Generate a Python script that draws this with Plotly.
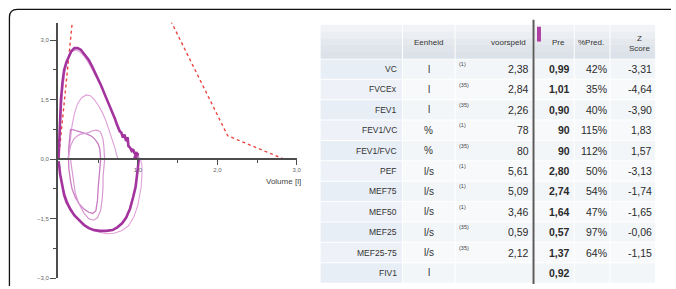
import plotly.graph_objects as go

W, H = 676, 289

# ---------------- data ----------------
# main (thick) loop
main_vol = [0, 0.01, 0.02, 0.03, 0.05, 0.07, 0.1, 0.13, 0.16, 0.2, 0.24, 0.28, 0.33, 0.38, 0.42, 0.46,
            0.5, 0.54, 0.58, 0.62, 0.65, 0.68, 0.71, 0.73, 0.75, 0.77, 0.79, 0.81, 0.83, 0.85, 0.87, 0.88,
            0.9, 0.92, 0.94, 0.95, 0.97, 0.98, 0.99, 1.0, 0.97, 0.96, 0.98, 1.01,
            1.0, 0.99, 0.97, 0.94, 0.9, 0.85, 0.8, 0.74, 0.68, 0.6, 0.52, 0.45, 0.38, 0.32, 0.26, 0.2,
            0.15, 0.1, 0.07, 0.04, 0.02, 0.01, 0]
main_flow = [0, 0.6, 1.1, 1.5, 1.95, 2.25, 2.45, 2.6, 2.72, 2.8, 2.8, 2.76, 2.64, 2.5, 2.35, 2.19,
             2.02, 1.84, 1.64, 1.46, 1.31, 1.16, 1.02, 0.9, 0.77, 0.7, 0.67, 0.54, 0.62, 0.46, 0.55, 0.33,
             0.29, 0.21, 0.25, 0.17, 0.12, 0.18, 0.07, 0.15, 0.1, 0.05, 0.02, 0,
             -0.2, -0.4, -0.7, -0.95, -1.25, -1.48, -1.62, -1.72, -1.79, -1.81, -1.81, -1.79, -1.74, -1.66,
             -1.55, -1.42, -1.27, -1.08, -0.9, -0.62, -0.38, -0.2, -0.05]

# thin trial close to the main one, with the wide outer inspiration
outer_vol = [0.03, 0.05, 0.08, 0.12, 0.17, 0.22, 0.27, 0.32, 0.38, 0.44, 0.5, 0.56, 0.62, 0.68, 0.73,
             0.78, 0.83, 0.88, 0.93, 0.98, 1.03,
             1.05, 1.05, 1.04, 1.0, 0.95, 0.88, 0.8, 0.7, 0.6, 0.5, 0.42, 0.35, 0.27, 0.2, 0.13, 0.08,
             0.05, 0.03]
outer_flow = [1.0, 1.7, 2.2, 2.55, 2.72, 2.75, 2.7, 2.6, 2.42, 2.2, 1.97, 1.72, 1.46, 1.2, 0.95,
              0.72, 0.52, 0.36, 0.22, 0.1, 0,
              -0.15, -0.4, -0.7, -1.15, -1.45, -1.68, -1.8, -1.87, -1.88, -1.84, -1.76, -1.68, -1.55,
              -1.4, -1.15, -0.9, -0.7, -0.55]

# medium effort (peak about 1.6)
mid_vol = [0.12, 0.13, 0.15, 0.17, 0.2, 0.24, 0.29, 0.35, 0.4, 0.45, 0.5, 0.55, 0.6, 0.64, 0.68,
           0.71, 0.73, 0.75]
mid_flow = [0, 0.2, 0.55, 0.85, 1.15, 1.4, 1.55, 1.62, 1.6, 1.5, 1.36, 1.18, 0.95, 0.72, 0.48,
            0.28, 0.12, 0]

# small loops
smallA_vol = [0.125, 0.13, 0.15, 0.19, 0.23, 0.3, 0.36, 0.42, 0.46, 0.5, 0.52, 0.53,
              0.52, 0.51, 0.5, 0.49, 0.47, 0.43, 0.38, 0.32, 0.26, 0.21, 0.17, 0.15, 0.13, 0.125]
smallA_flow = [0, 0.33, 0.75, 0.74, 0.71, 0.67, 0.63, 0.57, 0.5, 0.38, 0.25, 0,
               -0.2, -0.375, -0.7, -1.04, -1.3, -1.37, -1.34, -1.26, -1.13, -0.96, -0.75, -0.54,
               -0.25, 0]
smallB_vol = [0.12, 0.13, 0.15, 0.19, 0.23, 0.27, 0.33, 0.38, 0.42, 0.48, 0.52, 0.54, 0.56, 0.57, 0.58,
              0.57, 0.56, 0.56, 0.55, 0.53, 0.49, 0.44, 0.38, 0.32, 0.25, 0.21, 0.19, 0.17, 0.15]
smallB_flow = [0, 0.15, 0.33, 0.5, 0.58, 0.625, 0.64, 0.67, 0.71, 0.73, 0.7, 0.63, 0.5, 0.33, 0,
               -0.2, -0.45, -0.7, -1.0, -1.29, -1.48, -1.54, -1.5, -1.36, -1.1, -0.85, -0.58,
               -0.3, 0]

# table values
labels = ["VC", "FVCEx", "FEV1", "FEV1/VC", "FEV1/FVC", "PEF", "MEF75", "MEF50", "MEF25",
          "MEF25-75", "FIV1"]
units = ["l", "l", "l", "%", "%", "l/s", "l/s", "l/s", "l/s", "l/s", "l"]
refs = ["(1)", "(35)", "(35)", "(1)", "(35)", "(1)", "(1)", "(1)", "(35)", "(35)", ""]
pred = [2.38, 2.84, 2.26, 78, 80, 5.61, 5.09, 3.46, 0.59, 2.12, None]
pre = [0.99, 1.01, 0.90, 90, 90, 2.80, 2.74, 1.64, 0.57, 1.37, 0.92]
pct = [42, 35, 40, 115, 112, 50, 54, 47, 97, 64, None]
zsc = [-3.31, -4.64, -3.90, 1.83, 1.57, -3.13, -1.74, -1.65, -0.06, -1.15, None]
headers = ["", "Eenheid", "voorspeld", "Pre", "%Pred.", "Z<br>Score"]

# predicted expiratory curve from the predicted values
pef_vol = 0.28  # volume at predicted PEF
fvc_pred = pred[1]
pred_vol = [0, pef_vol, 0.25 * fvc_pred, 0.5 * fvc_pred, 0.75 * fvc_pred, fvc_pred]
pred_flow = [0, pred[5], pred[6], pred[7], pred[8], 0]


def fmt(v, unit):
    if v is None:
        return ""
    if unit == "%":
        return f"{v:.0f}"
    return f"{v:.2f}".replace(".", ",")


FONT = "Liberation Sans, Arial, sans-serif"
fig = go.Figure()

fig.add_trace(go.Scatter(x=pred_vol, y=pred_flow, mode="lines",
                         line=dict(color="#e8473f", width=1.4, dash="dot"), hoverinfo="skip"))
fig.add_trace(go.Scatter(x=outer_vol, y=outer_flow, mode="lines",
                         line=dict(color="#e2a3dc", width=1.1), hoverinfo="skip"))
fig.add_trace(go.Scatter(x=mid_vol, y=mid_flow, mode="lines",
                         line=dict(color="#dfa0d9", width=1.1), hoverinfo="skip"))
fig.add_trace(go.Scatter(x=smallA_vol, y=smallA_flow, mode="lines",
                         line=dict(color="#c97cc3", width=1.3), hoverinfo="skip"))
fig.add_trace(go.Scatter(x=smallB_vol, y=smallB_flow, mode="lines",
                         line=dict(color="#d99ad3", width=1.2), hoverinfo="skip"))
fig.add_trace(go.Scatter(x=main_vol, y=main_flow, mode="lines",
                         line=dict(color="#a3349e", width=2.6), hoverinfo="skip"))

# ---------------- axes ----------------
y_lo, y_hi = -3.0, 3.44
x_lo, x_hi = -0.01, 3.0
ax_x0 = 59 + x_lo * 80
ax_x1 = 299
ay_top, ay_bot = 23, 281
ydom = [(H - ay_bot) / H, (H - ay_top) / H]
zero_pos = ydom[0] + (0 - y_lo) / (y_hi - y_lo) * (ydom[1] - ydom[0])

axcol = "#4d4d4d"
fig.update_layout(
    width=W, height=H, margin=dict(l=0, r=0, t=0, b=0),
    paper_bgcolor="white", plot_bgcolor="white", showlegend=False,
    separators=", ",
    font=dict(family=FONT),
    xaxis=dict(domain=[ax_x0 / W, ax_x1 / W], range=[x_lo, x_hi], anchor="free", position=zero_pos,
               showline=True, linecolor=axcol, linewidth=1.5, showgrid=False, zeroline=False,
               ticks="outside", ticklen=5, tickwidth=1.3, tickcolor=axcol,
               tickvals=[1, 2, 3], tickformat=".1f",
               tickfont=dict(size=6, color="#666666"),
               minor=dict(tickvals=[0.5, 1.5, 2.5], ticks="outside", ticklen=3, tickwidth=1.2,
                          tickcolor=axcol)),
    yaxis=dict(domain=ydom, range=[y_lo, y_hi], anchor="x",
               showline=True, linecolor=axcol, linewidth=1.5, showgrid=False, zeroline=False,
               ticks="outside", ticklen=6, tickwidth=1.3, tickcolor=axcol,
               tickvals=[-3, -1.5, 0, 1.5, 3], tickformat=".1f",
               tickfont=dict(size=6, color="#666666"),
               minor=dict(tickvals=[-2.25, -0.75, 0.75, 2.25], ticks="outside", ticklen=3,
                          tickwidth=1.2, tickcolor=axcol)),
)

fig.add_annotation(text="Volume [l]", x=286 / W, y=(H - 183) / H, xref="paper", yref="paper",
                   showarrow=False, font=dict(size=8, color="#444444", family=FONT))

# frame (rounded top-left corner, runs off right and bottom)
fx, fy, rad = 9.5, 9.5, 8
path = (f"M {fx / W} 0 L {fx / W} {1 - (fy + rad) / H} "
        f"Q {fx / W} {1 - fy / H} {(fx + rad) / W} {1 - fy / H} L 1 {1 - fy / H}")
fig.add_shape(type="path", path=path, xref="paper", yref="paper",
              line=dict(color="#111111", width=1.3))

# ---------------- table (drawn with shapes + text) ----------------
def px(x):
    return x / W


def py(y):
    return 1 - y / H


def rect(x0, x1, y0, y1, color):
    fig.add_shape(type="rect", xref="paper", yref="paper", layer="below",
                  x0=px(x0), x1=px(x1), y0=py(y1), y1=py(y0),
                  line=dict(width=0), fillcolor=color)


def text(t, x, y, anchor, size, color="#2b2b2b"):
    fig.add_annotation(text=t, x=px(x), y=py(y), xref="paper", yref="paper",
                       xanchor=anchor, yanchor="middle", showarrow=False,
                       font=dict(family=FONT, size=size, color=color))


# header cell bounds (x) : label | Eenheid | voorspeld | Pre | %Pred. | Z Score
hdr_cols = [(323, 405), (406, 458), (459, 536), (539, 578), (579, 614), (615, 660)]
head_top, head_bot = 25, 59
row_h = 20.6
grad = ["#f1f3f6", "#ebeef2", "#e5e9ee", "#e0e5eb", "#dce2e9"]
band = (head_bot - head_top) / len(grad)
for (a, b) in hdr_cols:
    for k, c in enumerate(grad):
        rect(a, b, head_top + k * band, head_top + (k + 1) * band + 0.3, c)

# body cell bounds
body_cols = [(323, 405), (406, 458), (459, 536), (539, 578), (579, 614), (615, 660)]
for i in range(len(labels)):
    y0 = head_bot + 1 + i * row_h
    y1 = y0 + row_h - 1
    for j, (a, b) in enumerate(body_cols):
        if j == 0:
            col = "#e8eef6" if i % 2 == 0 else "#eef2f8"
        else:
            col = "#f3f6f9" if i % 2 == 0 else "#f7f9fb"
        rect(a, b, y0, y1, col)

# header texts
text(headers[1], 432, 43, "center", 8, "#333333")
text(headers[2], 532, 43, "right", 8, "#333333")
text(headers[3], 571, 43, "right", 8, "#333333")
text(headers[4], 611, 43, "right", 8, "#333333")
text(headers[5], 657, 44, "right", 8, "#333333")

# separator line and magenta marker
fig.add_shape(type="line", x0=px(537.5), x1=px(537.5), y0=py(287), y1=py(20),
              xref="paper", yref="paper", line=dict(color="#5a5a5a", width=2))
fig.add_shape(type="rect", x0=px(541), x1=px(545), y0=py(42), y1=py(27),
              xref="paper", yref="paper", line=dict(width=0), fillcolor="#b03fa3")

# body texts
for i in range(len(labels)):
    yc = head_bot + i * row_h + row_h / 2 + 0.5
    u = units[i]
    text(labels[i], 402, yc, "right", 8.5, "#333333")
    text(u, 432, yc, "center", 10, "#333333")
    if refs[i]:
        text(refs[i], 460, yc - 5, "left", 5.5, "#444444")
    if pred[i] is not None:
        text(fmt(pred[i], u), 535, yc, "right", 10.5)
    text(f"<b>{fmt(pre[i], u)}</b>", 576, yc, "right", 10.5)
    if pct[i] is not None:
        text(f"{pct[i]}%", 614, yc, "right", 10.5)
    if zsc[i] is not None:
        text(fmt(zsc[i], ""), 659, yc, "right", 10.5)

fig.write_html("out.html", config={"displayModeBar": False},
               post_script="document.body.style.margin='0';document.body.style.padding='0';")
